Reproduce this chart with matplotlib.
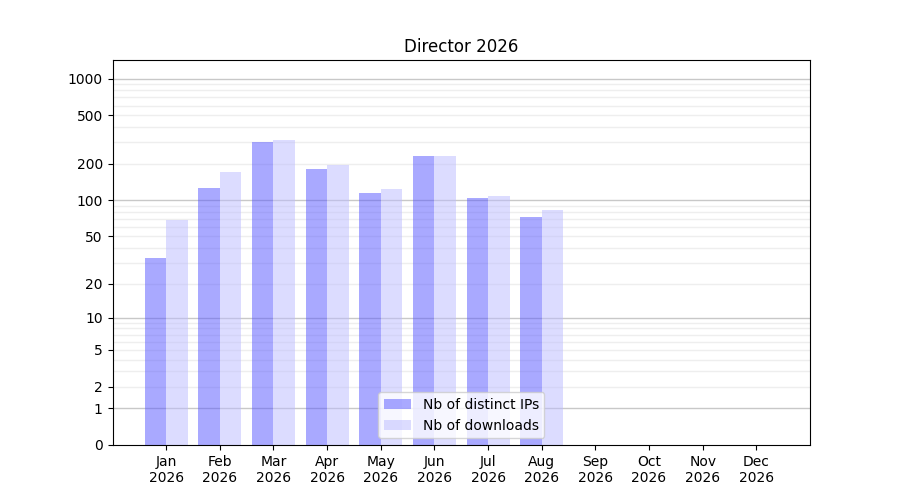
import numpy as np
import matplotlib
matplotlib.use("Agg")
import matplotlib.pyplot as plt
from matplotlib.ticker import FixedLocator, FixedFormatter

months = ["Jan", "Feb", "Mar", "Apr", "May", "Jun", "Jul", "Aug", "Sep", "Oct", "Nov", "Dec"]
year = "2026"
distinct_ips = [33, 126, 302, 181, 115, 232, 104, 73, 0, 0, 0, 0]
downloads = [69, 171, 314, 196, 124, 232, 108, 83, 0, 0, 0, 0]
ytick_values = [0, 1, 2, 5, 10, 20, 50, 100, 200, 500, 1000]

fig, ax = plt.subplots(figsize=(9, 5), dpi=100)
ax.set_yscale("function", functions=(lambda v: np.log10(1 + np.clip(v, 0, None)),
                                     lambda v: 10 ** v - 1))
x = np.arange(len(months))
w = 0.4
ax.bar(x - w / 2, distinct_ips, w, color="#5555ff", alpha=0.5, label="Nb of distinct IPs", zorder=2)
ax.bar(x + w / 2, downloads, w, color="#bbbbff", alpha=0.5, label="Nb of downloads", zorder=2)

ax.set_xlim(-1, 12)
ax.set_ylim(0, 1420)
ax.set_xticks(x)
ax.set_xticklabels([f"{m}\n{year}" for m in months])
ax.yaxis.set_major_locator(FixedLocator(ytick_values))
ax.yaxis.set_major_formatter(FixedFormatter([str(v) for v in ytick_values]))
minor = [m * 10 ** k for k in range(3) for m in range(2, 10)]
ax.yaxis.set_minor_locator(FixedLocator(minor))
ax.tick_params(axis="y", which="minor", length=0)

for v in [1, 10, 100, 1000]:
    ax.axhline(v, color="#c8c8c8", linewidth=1, zorder=1)
for v in minor:
    ax.axhline(v, color="#eeeeee", linewidth=1, zorder=0.5)

ax.set_title("Director 2026")
ax.legend(loc="lower center")
fig.savefig("out.png", dpi=100)
